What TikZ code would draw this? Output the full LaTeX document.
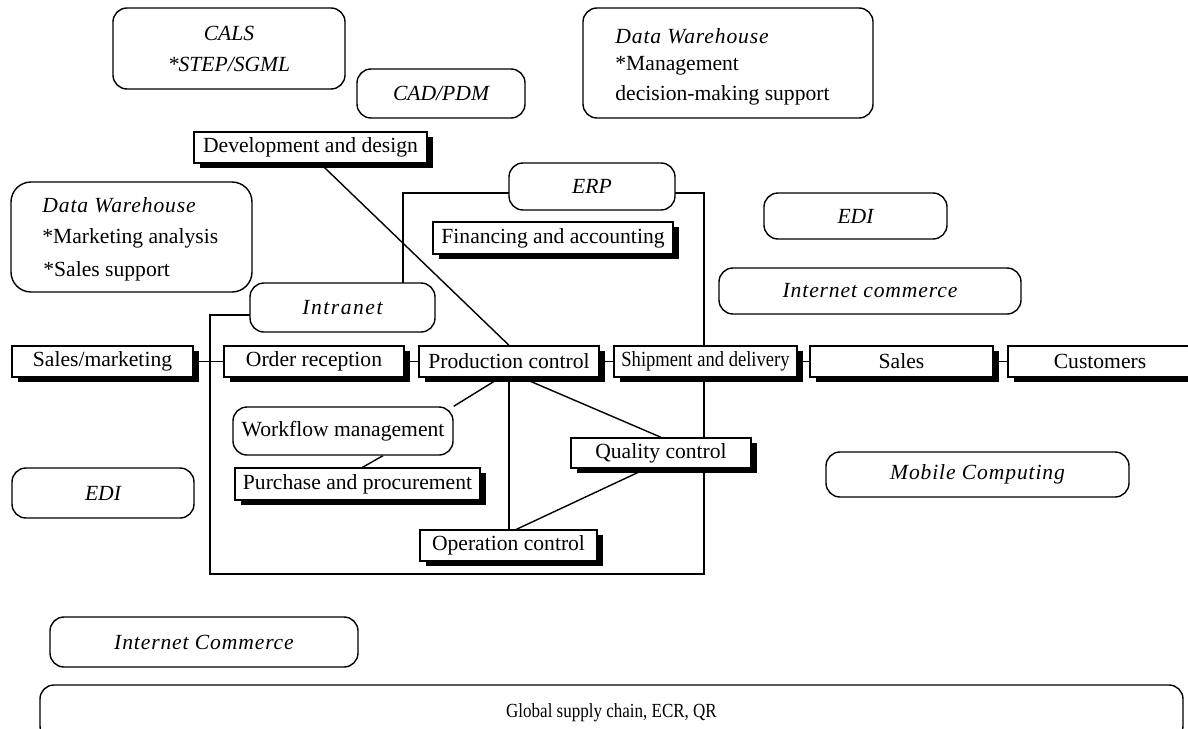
\documentclass[tikz,border=0pt]{standalone}
\usepackage{fontspec}
\setmainfont{Liberation Serif}
\usetikzlibrary{shadows}
\pgfdeclarelayer{background}
\pgfsetlayers{background,main}

\begin{document}
\begin{tikzpicture}[x=0.5pt,y=-0.5pt,
  every node/.style={font=\fontsize{10.8}{13}\selectfont},
  stripe/.style={draw, line width=0.7pt, fill=white, inner sep=0pt,
    minimum height=15.5pt,
    drop shadow={shadow xshift=3pt, shadow yshift=-2.5pt, opacity=1, fill=black}},
  oval/.style={draw, line width=0.7pt, fill=white, rounded corners=7pt, inner sep=0pt},
  tag/.style={font=\fontsize{10.8}{13}\selectfont\itshape},
  widetag/.style={font=\fontsize{10.8}{13}\selectfont\itshape\addfontfeatures{LetterSpace=4}},
  narrow/.style={font=\fontsize{10.8}{13}\selectfont\addfontfeatures{FakeStretch=0.86}},
  txt/.style={inner sep=0pt, anchor=west},
  link/.style={line width=0.7pt}
]
\useasboundingbox (0,0) rectangle (1188,728);

% ---- outlined technology areas ----
\node[oval, minimum width=116pt, minimum height=40.5pt] (cals) at (229,48.5) {};
\node[tag, inner sep=0pt] (calsA) at (229,33) {CALS};
\node[tag, inner sep=0pt] (calsB) at (229,64) {*STEP/SGML};

\node[oval, tag, minimum width=84pt, minimum height=24.5pt] (cad) at (441,93.5) {CAD/PDM};

\node[oval, minimum width=145pt, minimum height=55pt] (dwt) at (728,63) {};
\node[txt, widetag] (dwtA) at (615,36) {Data Warehouse};
\node[txt] (dwtB) at (615,66) {*Management};
\node[txt] (dwtC) at (615,95) {decision-making support};

\node[oval, rounded corners=10pt, minimum width=120.5pt, minimum height=55pt] (dwl) at (131.5,237) {};
\node[txt, widetag] (dwlA) at (42,205) {Data Warehouse};
\node[txt] (dwlB) at (42,238) {*Marketing analysis};
\node[txt] (dwlC) at (43,271) {*Sales support};

\node[oval, tag, minimum width=83pt, minimum height=23.5pt] (erp) at (592,186.5) {ERP};
\node[oval, tag, minimum width=91.5pt, minimum height=23pt] (edir) at (855.5,216) {EDI};
\node[oval, minimum width=92.5pt, minimum height=24.5pt,
  font=\fontsize{10.8}{13}\selectfont\itshape\addfontfeatures{LetterSpace=7}] (intra) at (342.5,307.5) {Intranet};
\node[oval, widetag, minimum width=151pt, minimum height=23pt] (inetr) at (870,291) {Internet commerce};
\node[oval, minimum width=110pt, minimum height=24pt] (wf) at (343,431) {Workflow management};
\node[oval, widetag, minimum width=151.5pt, minimum height=22.5pt] (mob) at (977.5,474.5) {Mobile Computing};
\node[oval, tag, minimum width=91pt, minimum height=25pt] (edil) at (103,493) {EDI};
\node[oval, widetag, minimum width=154pt, minimum height=25pt] (inetl) at (204,642) {Internet Commerce};
\node[oval, minimum width=571.5pt, minimum height=27.5pt,
  font=\fontsize{10}{12}\selectfont\addfontfeatures{FakeStretch=0.85}] (gsc) at (611.5,712.5) {Global supply chain, ECR, QR};

% ---- business functions ----
\node[stripe, minimum width=116.5pt] (dev) at (310.5,147.5) {Development and design};
\node[stripe, minimum width=120pt, minimum height=16pt] (fin) at (553,238) {Financing and accounting};
\node[stripe, minimum width=90.5pt] (sm) at (102.5,361.5) {Sales/marketing};
\node[stripe, minimum width=90pt] (ord) at (314,361.5) {Order reception};
\node[stripe, minimum width=90pt] (prod) at (509,361.5) {Production control};
\node[stripe, narrow, minimum width=91.5pt] (ship) at (705.5,361.5) {Shipment and delivery};
\node[stripe, minimum width=91.5pt] (sales) at (901.5,361.5) {Sales};
\node[stripe, minimum width=92pt] (cust) at (1100,361.5) {Customers};
\node[stripe, minimum width=90pt, minimum height=15pt] (qc) at (661,453) {Quality control};
\node[stripe, minimum width=122.5pt, minimum height=16pt] (pp) at (357.5,484) {Purchase and procurement};
\node[stripe, minimum width=88.5pt] (op) at (508.5,545.5) {Operation control};

% ---- frame of the ERP / intranet area ----
\coordinate (erpL) at (509,193);
\coordinate (erpR) at (675,193);
\coordinate (fTL) at (403,193);
\coordinate (fTI) at (403,283);
\coordinate (fTR) at (704,193);
\coordinate (fBR) at (704,574);
\coordinate (fBL) at (210,574);
\coordinate (fIL) at (210,315);
\coordinate (intL) at (250,315);

\begin{pgfonlayer}{background}
  \draw[link] (erpL) -- (fTL) -- (fTI);
  \draw[link] (intL) -- (fIL) -- (fBL) -- (fBR) -- (fTR) -- (erpR);

  \draw[link] (sm) -- (ord);
  \draw[link] (ord) -- (prod);
  \draw[link] (prod) -- (ship);
  \draw[link] (ship) -- (sales);
  \draw[link] (sales) -- (cust);

  \draw[link] ([xshift=5pt]dev.south) -- (prod.north);
  \draw[link] ([xshift=-4.5pt]prod.south) -- (wf.north east);
  \draw[link] ([xshift=6.5pt]prod.south) -- (qc.north);
  \draw[link] (prod.south) -- (prod.south |- op.north);
  \draw[link] ([xshift=-7.5pt]qc.south) -- ([xshift=4pt]op.north);
  \draw[link] ([xshift=20pt]wf.south) -- ([xshift=2.5pt]pp.north);
\end{pgfonlayer}
\end{tikzpicture}
\end{document}
